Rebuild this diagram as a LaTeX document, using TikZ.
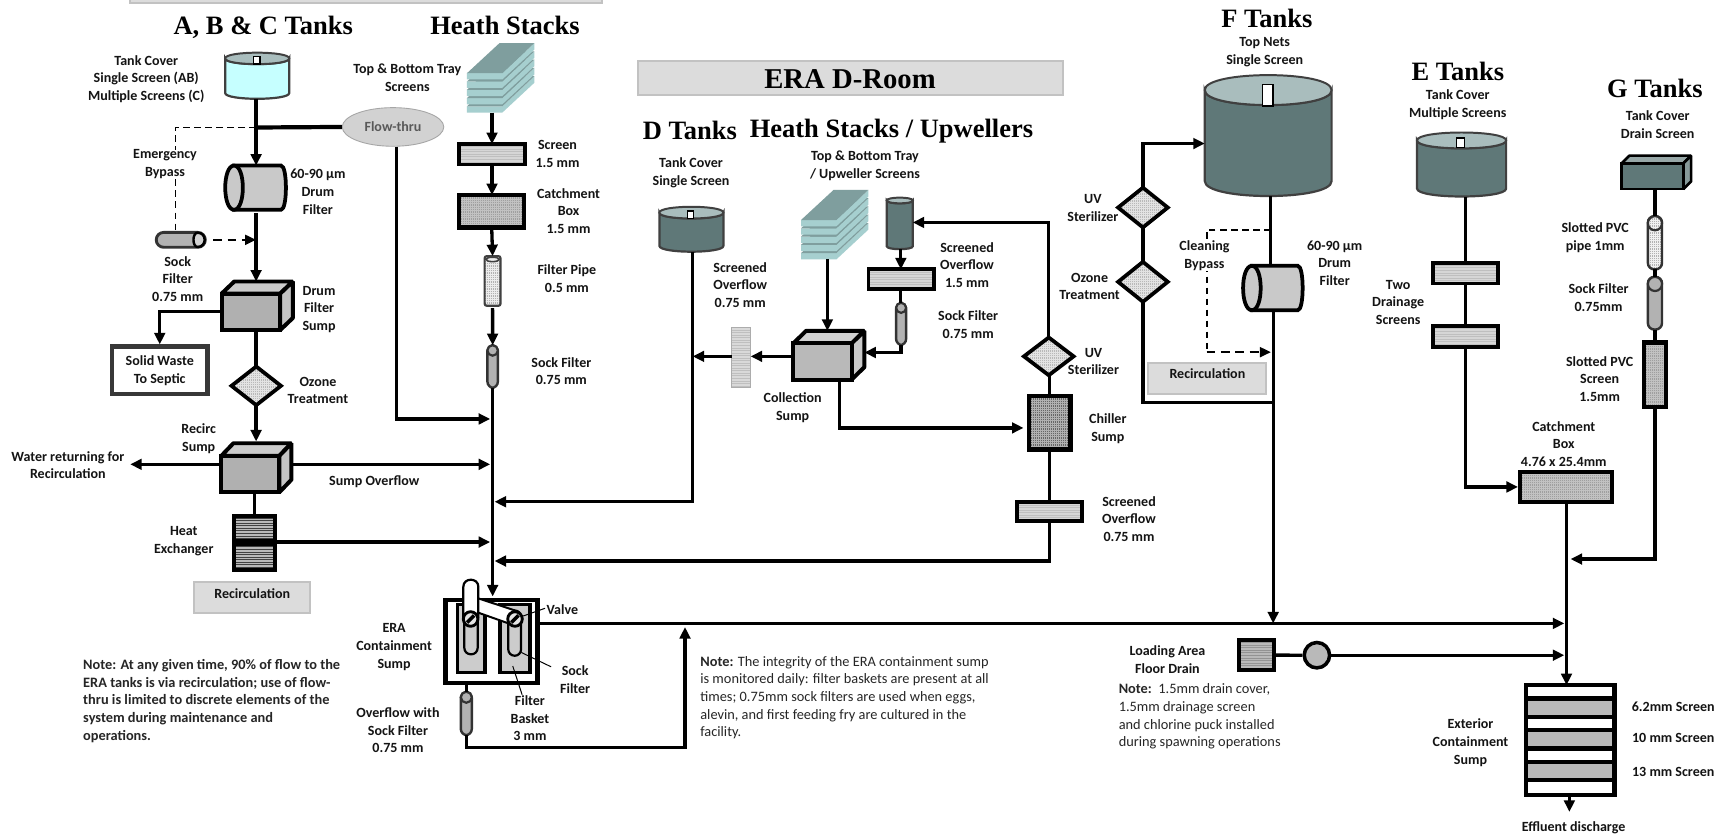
\documentclass[tikz,border=0pt]{standalone}
\usepackage{fontspec}
\setmainfont{Carlito}
\newfontfamily\ttlfont{Liberation Serif}
\usetikzlibrary{arrows.meta,calc,shapes.geometric}
\definecolor{teal1}{HTML}{5F7878}
\definecolor{teal2}{HTML}{A9BDBD}
\definecolor{aqua}{HTML}{C6FFFF}
\definecolor{bandf}{HTML}{DCDCDC}
\definecolor{bandd}{HTML}{C2C2C2}
\definecolor{stk1}{HTML}{7F9E9E}
\definecolor{stk2}{HTML}{A6CFCF}
\newcommand\mybx[6][]{%
  \pgfmathsetmacro\myw{(#5-#3)*0.5}\pgfmathsetmacro\myh{(#6-#4)*0.5}%
  \node[inner sep=0,outer sep=0,minimum width=\myw pt,minimum height=\myh pt,#1] (#2) at ({(#3+#5)/2},{(#4+#6)/2}) {};}
\newcommand\mytx[4]{\node[lbl] (#1) at (#2,#3) {#4};}
\newcommand\mycyl[8]{% name x1 ytop x2 ybot ry body top
  \mybx{#1}{#2}{#3}{#4}{#5}{}%
  \pgfmathsetmacro\cyt{#3+#6}\pgfmathsetmacro\cyb{#5-#6}\pgfmathsetmacro\cyc{1.33*#6}%
  \draw[fill=#7,draw=black!75,line width=1pt] (#2,\cyt) -- (#2,\cyb) .. controls (#2,\cyb+\cyc) and (#4,\cyb+\cyc) .. (#4,\cyb) -- (#4,\cyt) .. controls (#4,\cyt+\cyc) and (#2,\cyt+\cyc) .. (#2,\cyt) -- cycle;
  \draw[fill=#8,draw=black!75,line width=.9pt] (#2,\cyt) .. controls (#2,\cyt-\cyc) and (#4,\cyt-\cyc) .. (#4,\cyt) .. controls (#4,\cyt+\cyc) and (#2,\cyt+\cyc) .. (#2,\cyt) -- cycle;}
\newcommand\myslot[4]{\draw[fill=white,draw=black,line width=.7pt] (#1,#2) rectangle (#3,#4);}
\newcommand\mydrum[6]{% name x1 y1 x2 y2 rx
  \mybx{#1}{#2}{#3}{#4}{#5}{}%
  \pgfmathsetmacro\drl{#2+#6}\pgfmathsetmacro\drr{#4-#6*0.55}\pgfmathsetmacro\drc{1.33*#6}\pgfmathsetmacro\drd{1.33*#6*0.55}%
  \draw[fill=gray!42,line width=1.7pt] (\drl,#3) -- (\drr,#3) .. controls (\drr+\drd,#3) and (\drr+\drd,#5) .. (\drr,#5) -- (\drl,#5) -- cycle;
  \draw[fill=gray!42,line width=1.7pt] (\drl,#3) .. controls (\drl-\drc,#3) and (\drl-\drc,#5) .. (\drl,#5) .. controls (\drl+\drc,#5) and (\drl+\drc,#3) .. (\drl,#3) -- cycle;}
\newcommand\mydmd[5]{% name x1 y1 x2 y2
  \mybx{#1}{#2}{#3}{#4}{#5}{}%
  \draw[line width=1.7pt,fill=gray!22,dots=gray!55,miter limit=8] (#1.north) -- (#1.east) -- (#1.south) -- (#1.west) -- cycle;}
\newcommand\mybox[9]{% name x1 y1 x2 y2 dx dy front lw
  \pgfmathsetmacro\bxt{#3-#7}\pgfmathsetmacro\bxr{#4+#6}\pgfmathsetmacro\bxm{#2+#6}\pgfmathsetmacro\bxb{#5-#7}%
  \mybx{#1}{#2}{\bxt}{\bxr}{#5}%
  \colorlet{bxcol}{#8}%
  \draw[line width=#9,line join=bevel,fill=bxcol!65!white] (#2,#3) -- (\bxm,\bxt) -- (\bxr,\bxt) -- (#4,#3) -- cycle;
  \draw[line width=#9,line join=bevel,fill=bxcol!75!white] (#4,#3) -- (\bxr,\bxt) -- (\bxr,\bxb) -- (#4,#5) -- cycle;
  \draw[line width=#9,fill=bxcol] (#2,#3) rectangle (#4,#5);}
\newcommand\mystack[3]{%
  \mybx{#1}{#2}{#3}{#2+61}{#3+63}{}%
  \foreach \i in {4,3,2,1,0}{%
    \begin{scope}[shift={(#2,#3+\i*7.5)}]
    \fill[stk2] (0,27.3)--(32,27.3)--(61,0)--(61,6)--(32,33)--(0,33)--cycle;
    \fill[stk1] (29.5,0)--(61,0)--(32,27.3)--(0,27.3)--cycle;
    \end{scope}}}
\newcommand\mypill[6]{% name x1 y1 x2 y2 fill
  \mybx[draw=black!80,line width=1.1pt,fill=#6,rounded corners=2.9pt]{#1}{#2}{#3}{#4}{#5}%
  \pgfmathsetmacro\plc{(#2+#4)/2}\pgfmathsetmacro\plw{(#4-#2)*0.25}\pgfmathsetmacro\ply{#3+(#4-#2)*0.5}%
  \draw[draw=black!80,line width=1pt,fill=#6] (\plc,\ply) ellipse [x radius=\plw pt,y radius=\plw pt];}
\newcommand\myvalve[3]{%
  \node[circle,draw=black,line width=1.3pt,fill=gray!20,inner sep=0,minimum size=6.6pt] (#1) at (#2,#3) {};
  \draw[line width=1.6pt] ([shift={(-1.6pt,-1.6pt)}]#1.center) -- ([shift={(1.6pt,1.6pt)}]#1.center);}
\tikzset{
  lbl/.style={font=\fontsize{6.35}{8}\selectfont\bfseries,align=center,inner sep=0,text=black!92,yshift=-.3pt},
  ttl/.style={font=\ttlfont\fontsize{12}{13}\selectfont\bfseries,inner sep=0},
  nt/.style={font=\fontsize{6.5}{8}\selectfont,align=left,inner sep=0,anchor=north west,text=black!85},
  ln/.style={line width=1.5pt,black},
  arr/.style={ln,-{Triangle[length=5.2pt,width=4.8pt]}},
  thk/.style={line width=1.9pt},
  dsh/.style={line width=.85pt,dash pattern=on 3pt off 2pt},
  dsa/.style={line width=1.2pt,dash pattern=on 4pt off 2.5pt,-{Triangle[length=5pt,width=4.4pt]}},
  stripes/.style={path picture={\foreach \k in {1,...,40}{\draw[#1,line width=.3pt] ([yshift=-\k*1.15pt]path picture bounding box.north west) -- ++(300pt,0);}}},
  dots/.style={path picture={\foreach \k in {1,...,40}{\draw[#1,line width=.3pt,dash pattern=on .45pt off .45pt] ([yshift=-\k*.8pt]path picture bounding box.north west) -- ++(300pt,0);}}},
  scr/.style={draw=black,line width=1.7pt,fill=gray!32,stripes=gray!50},
  cat/.style={draw=black,line width=1.9pt,fill=gray!48,dots=gray!75},
  band/.style={draw=bandd,line width=.9pt,fill=bandf},
}
\begin{document}
\begin{tikzpicture}[x=0.5pt,y=-0.5pt]
\fill[white] (0,0) rectangle (1568,755);
\useasboundingbox (0,0) rectangle (1568,755);
% bands
\mybx[band]{bandTop}{118}{-6}{545}{3}
\mybx[band]{bandD}{578}{55}{963}{86}
\mybx[band]{bandR1}{176}{527.5}{281}{555.6}
\mybx[band]{bandR2}{1040.2}{328.7}{1147}{356.5}
% coordinates
\coordinate (cA) at (232,0); \coordinate (tr) at (446,0); \coordinate (tr2) at (1419,0);
\coordinate (jA) at (232,115.5); \coordinate (eB) at (159,0); \coordinate (yW) at (0,282);
\coordinate (yR) at (0,420.6); \coordinate (yH) at (0,491); \coordinate (wrTip) at (118,420.6);
\coordinate (yFT) at (0,379.5); \coordinate (cF) at (359,0); \coordinate (yM) at (0,564.7);
\coordinate (ovR) at (620.5,677); \coordinate (ovTip) at (620.5,568);
\coordinate (cD) at (627.5,0); \coordinate (yD) at (0,454.5); \coordinate (yC) at (0,322.8);
\coordinate (cS) at (749.5,0); \coordinate (cU) at (816,0); \coordinate (yU) at (0,319.3);
\coordinate (cC) at (760.4,0); \coordinate (yCh) at (0,387.6); \coordinate (yUp) at (0,201.5);
\coordinate (yL) at (0,508.2); \coordinate (fL) at (1153.3,0); \coordinate (fU) at (1151,0);
\coordinate (yF) at (0,130); \coordinate (yRec) at (0,364.6); \coordinate (jF) at (1151,208.5);
\coordinate (xB) at (1093,0); \coordinate (yB) at (0,319); \coordinate (cE) at (1327.4,0);
\coordinate (yG) at (0,506.4); \coordinate (tipG) at (1422.7,506.4); \coordinate (cG) at (1499,0);
\coordinate (cX) at (1421.6,0); \coordinate (tipX) at (1421.6,735.4);
\coordinate (valveEnd) at (493.7,551);
% A, B & C
\mycyl{atank}{204}{47.7}{262}{89.5}{5.2}{aqua}{teal2}
\myslot{229.5}{51}{235.5}{58}
\node[ellipse,draw=gray!70,fill=gray!35,inner sep=0,minimum width=46pt,minimum height=17.5pt,font=\fontsize{6.35}{8}\selectfont\bfseries,text=black!65] (flow) at (356,115) {Flow-thru};
\mydrum{adrum}{204}{150}{259}{190}{8}
\mybx[draw=black!80,line width=1.3pt,fill=gray!60,rounded corners=3.4pt]{sockH}{141.5}{210.5}{186}{224}
\draw[line width=1.1pt,fill=gray!35] (179,210.8) .. controls (174,210.8) and (174,223.7) .. (179,223.7) .. controls (187.5,223.7) and (187.5,210.8) .. (179,210.8) -- cycle;
\mybox{ds}{200.7}{266}{253.8}{299}{11.5}{11}{gray!62}{1.8pt}
\node[draw=black!78,line width=2pt,fill=white,inner sep=0,minimum width=43.3pt,minimum height=21.5pt,lbl,yshift=.3pt] (waste) at (144.7,335.5) {Solid Waste\\To Septic};
\mydmd{oz}{209.7}{332}{254.5}{367}
\mybox{rs}{200.4}{413}{253}{446}{11}{11.5}{gray!62}{1.8pt}
\mybx[draw=black,line width=1.8pt,fill=gray!55,stripes=black!75]{hx1}{211.6}{467}{249.4}{490}
\mybx[draw=black,line width=1.8pt,fill=gray!55,stripes=black!75]{hx2}{211.6}{493}{249.4}{516}
% Heath stacks
\mystack{stackA}{423}{39}
\mybx[scr]{sc1}{415.8}{130.5}{475.6}{149}
\mybx[cat]{cb1}{415.8}{176.7}{475}{206}
\mybx[draw=black!75,line width=1pt,fill=gray!15,dots=gray!60,rounded corners=1pt]{fp}{439}{232}{453.4}{277}
\draw[draw=black!75,line width=.7pt,fill=gray!15] (446.2,235) ellipse [x radius=3pt,y radius=1pt];
\mypill{sk1}{441.5}{312.7}{451}{351.4}{gray!60}
% ERA sump
\mybx[draw=black,line width=2pt,fill=white]{era}{403.7}{543.5}{486.7}{618.5}
\mybx[draw=black,line width=1.5pt,fill=gray!40]{bkL}{414.3}{547.4}{439.4}{609.3}
\mybx[draw=black,line width=1.5pt,fill=gray!40]{bkR}{452.9}{547.4}{480}{609.3}
\mybx[draw=black,line width=1pt,rounded corners=2.9pt,fill=gray!40]{skL}{420.6}{553}{432.7}{592.7}
\mybx[draw=black,line width=1pt,rounded corners=2.9pt,fill=gray!40]{skR}{460.4}{553}{472}{594}
\fill[white] (433.3,542) -- (466.5,553) -- (460.4,564.6) -- (433.3,555) -- cycle;
\draw[line width=.9pt] (433.3,542) -- (466.5,553) (433.3,555) -- (460.4,564.6);
\draw[line width=1pt,fill=white] (419.7,560) -- (419.7,531.5) .. controls (419.7,523) and (433.3,523) .. (433.3,531.5) -- (433.3,560);
\myvalve{vL}{426.3}{560.7}
\myvalve{vR}{466.5}{560.7}
\mypill{osock}{417.4}{626.6}{427.4}{666}{gray!60}
% D room
\mycyl{dtank}{597.3}{187.3}{655.3}{228}{5.3}{teal1}{teal2}
\myslot{622.6}{190.9}{628}{197.9}
\mybx[draw=gray!65,line width=.6pt,fill=gray!30,stripes=gray!50]{tall}{662.8}{296.7}{680}{351}
\mybox{col}{718.7}{311}{771.6}{343.8}{11.4}{11.3}{gray!55}{1.8pt}
\mystack{stackD}{725.6}{172}
\mycyl{upc}{803.3}{179}{826.8}{225.7}{2.6}{teal1}{teal2}
\mybx[scr]{scU}{786.7}{244}{846}{262}
\mypill{sockU}{811.7}{274.3}{820.8}{312.7}{gray!60}
\mydmd{uv}{927.5}{305.7}{972.5}{339.9}
\mybx[draw=black,line width=2pt,fill=gray!62,dots=black!60]{chil}{932.3}{358.9}{969.5}{407.2}
\mybx[scr]{scL}{921}{455}{980}{472}
% F
\mycyl{ftank}{1091.3}{68}{1206.2}{177.6}{13.6}{teal1}{teal2}
\myslot{1143.5}{76.4}{1153.3}{95.8}
\mydmd{fuv}{1012.8}{170}{1057.8}{206}
\mydmd{foz}{1012.8}{237.2}{1057.8}{273.4}
\mydrum{fdrum}{1126}{240.8}{1180}{281}{8}
% E
\mycyl{etank}{1283.6}{120}{1364.3}{178}{7.2}{teal1}{teal2}
\myslot{1319.4}{124.8}{1326.7}{133.8}
\mybx[scr]{es1}{1298.2}{238}{1357}{256.8}
\mybx[scr]{es2}{1298.2}{295.5}{1357}{314.2}
\mybx[cat]{cbE}{1377}{427.2}{1460}{455}
% G
\mybox{gbox}{1469}{148}{1524.9}{171.3}{7}{7}{teal1}{1.2pt}
\mypill{gpipe}{1492.7}{195.8}{1505.5}{244}{gray!12,dots=gray!60}
\mypill{gsock}{1492.7}{250.8}{1505.5}{298.5}{gray!60}
\mybx[cat]{gscr}{1489}{310.3}{1509}{368.6}
% loading
\mybx[draw=black,line width=2pt,fill=gray!55,stripes=gray!85]{ldb}{1122.3}{579.8}{1154}{607}
\node[circle,draw=black,line width=1.6pt,fill=gray!55,inner sep=0,minimum size=11.5pt] (ldc) at (1192.9,593.5) {};
% exterior
\mybx[draw=black,line width=1.9pt,fill=white]{ext}{1382.5}{620.6}{1462.5}{720.3}
\mybx[draw=black,line width=1.9pt,fill=gray!55]{eb1}{1382.5}{632.7}{1462.5}{649.3}
\mybx[draw=black,line width=1.9pt,fill=gray!55]{eb2}{1382.5}{661.4}{1462.5}{678}
\mybx[draw=black,line width=1.9pt,fill=gray!55]{eb3}{1382.5}{690.1}{1462.5}{706.7}
% connectors: A
\draw[ln,thk] (flow.west) -- (jA);
\draw[arr,thk] (atank.south -| cA) -- (adrum.north -| cA);
\draw[dsh] (jA) -| (eB |- sockH.north);
\draw[dsa] ([xshift=3.6pt]sockH.east) -- (cA |- sockH.east);
\draw[arr] ([yshift=-1.6pt]adrum.south -| cA) -- (ds.north -| cA);
\draw[arr] (ds.west |- yW) -| (waste.north);
\draw[ln] (ds.south -| cA) -- (oz.north -| cA);
\draw[arr] (oz.south -| cA) -- ([yshift=.8pt]rs.north -| cA);
\draw[arr,shorten >=1pt] (rs.east |- yR) -- (tr |- yR);
\draw[arr] (rs.west |- yR) -- (wrTip);
\draw[ln] (rs.south -| hx1.north) -- (hx1.north);
\draw[ln] (hx1.south) -- (hx2.north);
\draw[arr,shorten >=1pt] (hx1.east |- yH) -- (tr |- yH);
% Heath
\draw[arr] (stackA.south -| sc1.north) -- (sc1.north);
\draw[arr] ([yshift=-.7pt]sc1.south) -- (cb1.north -| sc1.north);
\draw[arr] (cb1.south) -- (fp.north);
\draw[arr] ([yshift=-1pt]fp.south) -- (sk1.north);
\draw[arr,shorten >=1.6pt] (sk1.south) -- (era.north -| sk1.south);
\draw[arr,shorten >=1pt] (flow.south -| cF) |- (tr |- yFT);
% ERA
\draw[ln] (era.south -| osock.north) -- (osock.north);
\draw[arr] (osock.south) |- (ovR) -- (ovTip);
\draw[arr,shorten >=1pt] (era.east |- yM) -- (tr2 |- yM);
\draw[line width=.45pt] (vR.20) -- (valveEnd);
\draw[line width=.45pt] ($(skR.south)+(6,-3)$) -- ++(27,13);
\draw[line width=.45pt] ($(bkR.south)+(-2,-6)$) -- ++(8.5,26);
% D
\draw[arr,shorten >=1pt] (dtank.south -| cD) |- (tr |- yD);
\draw[arr] (tall.west |- yC) -- (cD |- yC);
\draw[arr] (col.west |- yC) -- (tall.east |- yC);
\draw[arr] (stackD.south -| cS) -- (col.north -| cS);
\draw[arr] (upc.south -| cU) -- (scU.north -| cU);
\draw[ln] (scU.south -| cU) -- (sockU.north -| cU);
\draw[arr] (sockU.south) |- (col.east |- yU);
\draw[arr,shorten >=2.6pt] (col.south -| cC) |- (chil.west |- yCh);
\draw[arr] (uv.north) |- (upc.east |- yUp);
\draw[ln] (uv.south -| chil.north) -- (chil.north);
\draw[ln] (chil.south) -- (scL.north -| chil.south);
\draw[arr,shorten >=1pt] (scL.south -| chil.south) |- (tr |- yL);
% F
\draw[arr] (fuv.north) |- (ftank.west |- yF);
\draw[ln] (fuv.south) -- (foz.north);
\draw[ln] (foz.south) |- (fL |- yRec);
\draw[ln] (ftank.south -| fU) -- (fdrum.north -| fU);
\draw[arr] (fdrum.south -| fL) -- (fL |- yM);
\draw[dsh] (jF) -| (xB |- yB);
\draw[dsa,shorten >=1pt] (xB |- yB) -- (fL |- yB);
% E G
\draw[ln] (etank.south -| cE) -- (es1.north -| cE);
\draw[ln] (es1.south -| cE) -- (es2.north -| cE);
\draw[arr,shorten >=1pt] (es2.south -| cE) |- (cbE.west);
\draw[arr] (cbE.south -| tr2) -- (ext.north -| tr2);
\draw[ln] (gbox.south -| cG) -- (gpipe.north -| cG);
\draw[ln] (gpipe.south -| cG) -- (gsock.north -| cG);
\draw[ln] (gsock.south -| cG) -- (gscr.north -| cG);
\draw[arr] (gscr.south -| cG) |- (tipG);
\draw[arr] (ext.south -| cX) -- (tipX);
\draw[ln] (ldb.east) -- (ldc.west);
\draw[arr,shorten >=1pt] (ldc.east) -- (tr2 |- ldc.east);
% titles
\node[ttl] (h1) at (238.5,24.5) {A, B \& C Tanks};
\node[ttl] (h2) at (457.5,23) {Heath Stacks};
\node[ttl,font=\ttlfont\fontsize{13}{14}\selectfont\bfseries] (h3) at (770,71.5) {ERA D-Room};
\node[ttl] (h4) at (625,118) {D Tanks};
\node[ttl] (h5) at (807.5,118.5) {Heath Stacks / Upwellers};
\node[ttl] (h6) at (1147.5,17) {F Tanks};
\node[ttl] (h7) at (1320.5,65) {E Tanks};
\node[ttl] (h8) at (1499,80) {G Tanks};
% labels
\mytx{t1}{132.5}{71}{Tank Cover\\Single Screen (AB)\\Multiple Screens (C)}
\node[lbl,fill=white,inner xsep=1pt] (t2) at (149.5,148) {Emergency\\Bypass};
\mytx{t3}{288}{173}{60-90 µm\\Drum\\Filter}
\mytx{t4}{161}{252}{Sock\\Filter\\0.75 mm}
\mytx{t5}{289}{279.5}{Drum\\Filter\\Sump}
\mytx{t6}{288}{353}{Ozone\\Treatment}
\mytx{t7}{369}{69.5}{Top \& Bottom Tray\\Screens}
\mytx{t8}{505}{139}{Screen\\1.5 mm}
\mytx{t9}{515}{190.5}{Catchment\\Box\\1.5 mm}
\mytx{t10}{513.5}{252}{Filter Pipe\\0.5 mm}
\mytx{t11}{508.5}{335.5}{Sock Filter\\0.75 mm}
\mytx{t12}{180}{397}{Recirc\\Sump}
\mytx{t13}{61.5}{420.7}{Water returning for\\Recirculation}
\mytx{t14}{339}{436}{Sump Overflow}
\mytx{t15}{166.5}{489.5}{Heat\\Exchanger}
\mytx{t16}{228.5}{537.5}{Recirculation}
\node[nt,font=\fontsize{6.5}{8}\selectfont\bfseries] (t17) at (75,597) {Note: At any given time, 90\% of flow to the\\ERA tanks is via recirculation; use of flow-\\thru is limited to discrete elements of the\\system during maintenance and\\operations.};
\mytx{t18}{357}{585.5}{ERA\\Containment\\Sump}
\mytx{t19}{509.4}{552}{Valve}
\mytx{t20}{521}{615}{Sock\\Filter}
\mytx{t21}{480}{650}{Filter\\Basket\\3 mm}
\mytx{t22}{360.5}{661}{Overflow with\\Sock Filter\\0.75 mm}
\node[nt] (t23) at (634,594) {\textbf{Note:} The integrity of the ERA containment sump\\is monitored daily: filter baskets are present at all\\times; 0.75mm sock filters are used when eggs,\\alevin, and first feeding fry are cultured in the\\facility.};
\mytx{t24}{626}{156}{Tank Cover\\Single Screen}
\mytx{t25}{670.5}{257.5}{Screened\\Overflow\\0.75 mm}
\mytx{t26}{783.5}{149.7}{Top \& Bottom Tray\\/ Upweller Screens}
\mytx{t27}{876}{239.5}{Screened\\Overflow\\1.5 mm}
\mytx{t28}{877}{293.7}{Sock Filter\\0.75 mm}
\mytx{t29}{718}{368.5}{Collection\\Sump}
\mytx{t30}{990.5}{327}{UV\\Sterilizer}
\mytx{t31}{1003.5}{388}{Chiller\\Sump}
\mytx{t32}{1022.7}{469.5}{Screened\\Overflow\\0.75 mm}
\mytx{t33}{990}{188}{UV\\Sterilizer}
\mytx{t34}{987}{259}{Ozone\\Treatment}
\mytx{t35}{1145.6}{46.5}{Top Nets\\Single Screen}
\node[lbl,fill=white,inner xsep=1pt] (t36) at (1091,231.3) {Cleaning\\Bypass};
\mytx{t37}{1209}{237.8}{60-90 µm\\Drum\\Filter}
\mytx{t38}{1093.7}{337.7}{Recirculation}
\mytx{t39}{1320.5}{94.3}{Tank Cover\\Multiple Screens}
\mytx{t40}{1266.5}{273.3}{Two\\Drainage\\Screens}
\mytx{t41}{1501.6}{112}{Tank Cover\\Drain Screen}
\mytx{t42}{1445}{214.5}{Slotted PVC\\pipe 1mm}
\mytx{t43}{1448}{268.7}{Sock Filter\\0.75mm}
\mytx{t44}{1449}{342.7}{Slotted PVC\\Screen\\1.5mm}
\mytx{t45}{1416.5}{401.5}{Catchment\\Box\\4.76 x 25.4mm}
\mytx{t46}{1057.5}{597.2}{Loading Area\\Floor Drain}
\node[nt] (t47) at (1013,619) {\textbf{Note:}\ \ 1.5mm drain cover,\\1.5mm drainage screen\\and chlorine puck installed\\during spawning operations};
\mytx{t48}{1515.7}{640}{6.2mm Screen}
\mytx{t49}{1515.7}{668.3}{10 mm Screen}
\mytx{t50}{1515.7}{699}{13 mm Screen}
\mytx{t51}{1332}{672}{Exterior\\Containment\\Sump}
\mytx{t52}{1425.4}{749}{Effluent discharge}
\end{tikzpicture}
\end{document}
